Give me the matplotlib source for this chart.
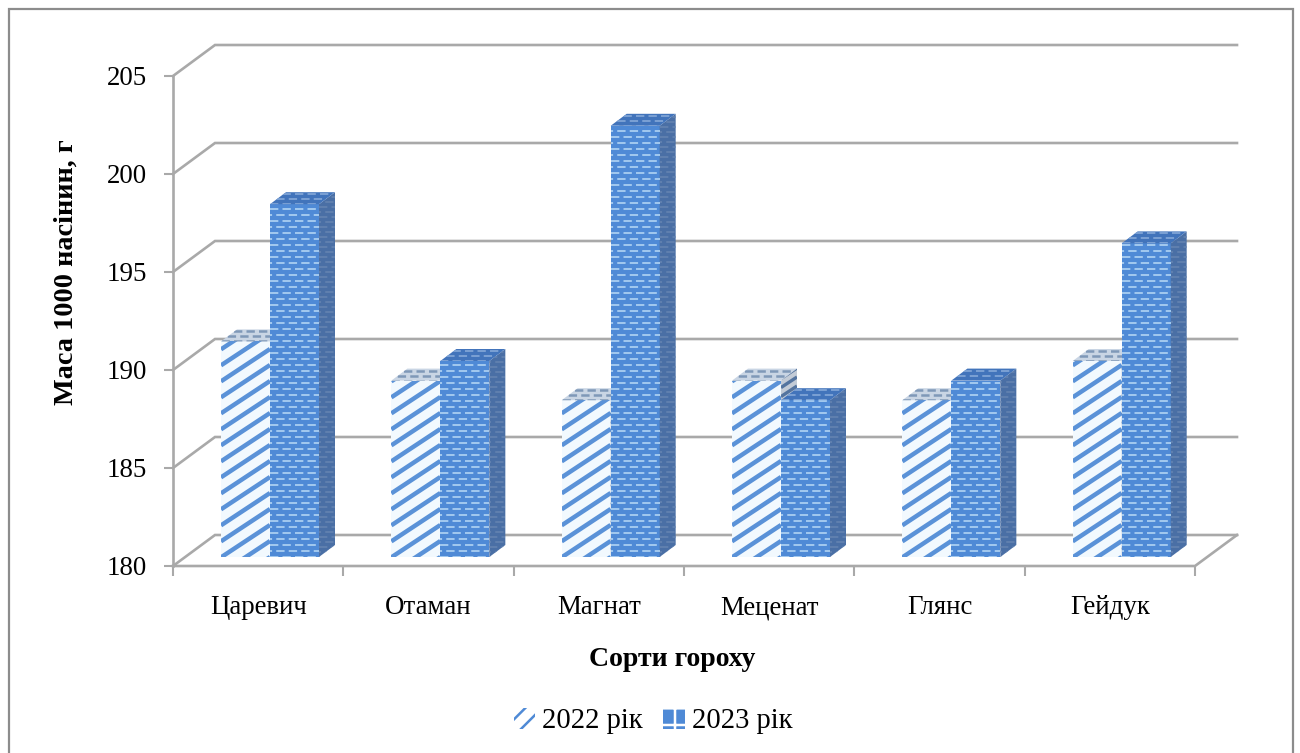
import numpy as np
import matplotlib
matplotlib.use("Agg")
import matplotlib.pyplot as plt
from matplotlib.patches import Polygon, Rectangle, Patch
from matplotlib.collections import LineCollection

plt.rcParams['font.family'] = ['Liberation Serif', 'DejaVu Serif']
plt.rcParams['hatch.linewidth'] = 1.8
plt.rcParams['lines.scale_dashes'] = False

varieties = ["Царевич", "Отаман", "Магнат", "Меценат", "Глянс", "Гейдук"]
mass_2022 = [191, 189, 188, 189, 188, 190]
mass_2023 = [198, 190, 202, 188, 189, 196]
y_ticks = [180, 185, 190, 195, 200, 205]

W, H = 1300, 753
GRID = "#a9a9a9"
BLUE = "#4f8ad6"
DARK = "#4a6fa5"

fig = plt.figure(figsize=(W / 100, H / 100), dpi=100, facecolor="white")

# plot box of the front plane, in pixels
left, right, top, bottom = 173, 1195, 76, 566
ax = fig.add_axes([left / W, 1 - bottom / H, (right - left) / W, (bottom - top) / H])
ax.set_xlim(0, len(varieties))
ax.set_ylim(y_ticks[0], y_ticks[-1])
ax.patch.set_visible(False)
for s in ax.spines.values():
    s.set_visible(False)

px_x = len(varieties) / (right - left)
px_y = (y_ticks[-1] - y_ticks[0]) / (bottom - top)

# depth of the walls and of the bars, px converted to data units
wall_dx, wall_dy = 42 * px_x, 31 * px_y
bar_dx, bar_dy = 16 * px_x, 12 * px_y
base_up = 9 * px_y
bar_w = 49 * px_x
bar_off = 48 * px_x
n = len(varieties)

# walls and floor
for v in y_ticks:
    ax.plot([0, wall_dx, n + wall_dx], [v, v + wall_dy, v + wall_dy], color=GRID, lw=1.9,
            clip_on=False, zorder=1, solid_joinstyle="miter")
ax.plot([0, 0], [y_ticks[0], y_ticks[-1]], color=GRID, lw=1.9, clip_on=False, zorder=1)
ax.plot([0, n, n + wall_dx], [180, 180, 180 + wall_dy], color=GRID, lw=1.9, clip_on=False, zorder=1)


def stripes(patch, x0, y0, w, h, color, lw=3.2, step_px=16):
    # diagonal stripes of the 2022 bars, clipped to the face
    step = step_px * px_y
    rise = 0.66 * (w / px_x) * px_y
    segs = []
    for b in np.arange(y0 - rise, y0 + h + step, step):
        segs.append([(x0, b), (x0 + w, b + rise)])
    lc = LineCollection(segs, colors=color, linewidths=lw, zorder=patch.get_zorder() + 0.1)
    ax.add_collection(lc)
    lc.set_clip_path(patch)


def weave(patch, x0, y0, w, h, color, lw=1.4, row_px=6):
    # staggered rows of short light dashes for the 2023 bars
    segs, styles = [], []
    rows = np.arange(y0, y0 + h + row_px * px_y, row_px * px_y)
    for k, b in enumerate(rows):
        segs.append([(x0, b), (x0 + w, b)])
        styles.append((0 if k % 2 == 0 else 4.5, (6, 3)))
    lc = LineCollection(segs, colors=color, linewidths=lw, linestyles=styles,
                        zorder=patch.get_zorder() + 0.1)
    ax.add_collection(lc)
    lc.set_clip_path(patch)


def draw_bar(x, v, kind, z):
    y0 = y_ticks[0] + base_up
    # front face height comes straight from the value
    h = v - y_ticks[0]
    total_h = h + bar_dy
    side_pts = [(x + bar_w, y0), (x + bar_w + bar_dx, y0 + bar_dy),
                (x + bar_w + bar_dx, y0 + total_h), (x + bar_w, y0 + h)]
    lid_pts = [(x, y0 + h), (x + bar_w, y0 + h), (x + bar_w + bar_dx, y0 + total_h),
               (x + bar_dx, y0 + total_h)]
    if kind == 2022:
        front = Rectangle((x, y0), bar_w, h, fc="#f2f9fe", ec="none", zorder=z)
        ax.add_patch(front)
        stripes(front, x, y0, bar_w, h, "#5a92d8")
        side = Polygon(side_pts, fc="#c3cbd6", ec="none", zorder=z)
        ax.add_patch(side)
        stripes(side, x + bar_w, y0, bar_dx, total_h, "#54749f", lw=2.4, step_px=9)
        lid = Polygon(lid_pts, fc="#c9d5e4", ec="none", zorder=z)
        ax.add_patch(lid)
        weave(lid, x, y0 + h, bar_w + bar_dx, bar_dy, "#7f98b8", lw=1.8, row_px=5)
    else:
        front = Rectangle((x, y0), bar_w, h, fc=BLUE, ec="none", zorder=z)
        ax.add_patch(front)
        weave(front, x, y0, bar_w, h, "#a3c9ef")
        side = Polygon(side_pts, fc=DARK, ec="none", zorder=z)
        ax.add_patch(side)
        weave(side, x + bar_w, y0, bar_dx, total_h, "#6483b0", lw=1.2, row_px=5)
        lid = Polygon(lid_pts, fc="#4274bb", ec="none", zorder=z)
        ax.add_patch(lid)
        weave(lid, x, y0 + h, bar_w + bar_dx, bar_dy, "#7fa4d6", lw=1.3, row_px=5)


for i in range(n):
    draw_bar(i + bar_off, mass_2022[i], 2022, 3)
    draw_bar(i + bar_off + bar_w, mass_2023[i], 2023, 4)

ax.set_xticks(range(n + 1))
ax.set_xticks(np.arange(n) + 0.5, varieties, minor=True)
ax.set_xticklabels([])
ax.set_yticks(y_ticks)
ax.tick_params(axis="x", which="major", length=7.5, width=1.5, color=GRID)
ax.tick_params(axis="x", which="minor", length=0, labelsize=19.4, pad=21)
ax.tick_params(axis="y", length=6.5, width=1.5, color=GRID, labelsize=19.4, pad=12)

fig.text(66 / W, 1 - 272 / H, "Маса 1000 насінин, г", rotation=90, fontsize=20.3, fontweight="bold",
         ha="center", va="center")
fig.text(672 / W, 1 - 660 / H, "Сорти гороху", fontsize=20, fontweight="bold", ha="center", va="center")

handles = [Patch(fc="white", ec=BLUE, hatch="//", lw=0, label="2022 рік"),
           Patch(fc=BLUE, ec="white", hatch="+", lw=0, label="2023 рік")]
fig.legend(handles=handles, loc="center", bbox_to_anchor=(653 / W, 1 - 721 / H), ncol=2, frameon=False,
           fontsize=20.6, handlelength=0.75, handleheight=0.75, handletextpad=0.25, columnspacing=0.7)

# outer chart frame, open at the bottom edge
fig.add_artist(Rectangle((9 / W, -10 / H), 1284 / W, (744 + 10) / H, transform=fig.transFigure,
                         fc="none", ec="#8c8c8c", lw=1.6))

fig.savefig("out.png", dpi=100)
